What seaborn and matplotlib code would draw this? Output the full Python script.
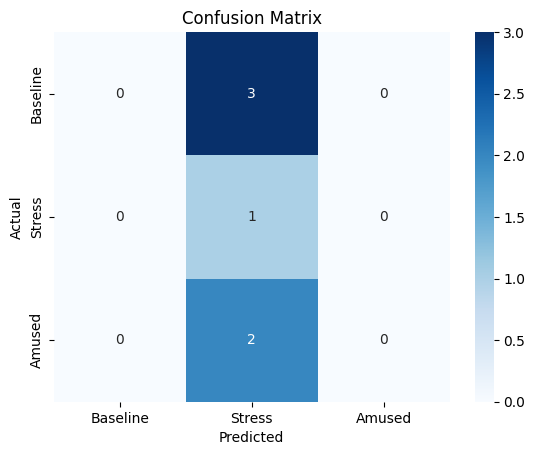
import matplotlib
matplotlib.use("Agg")
import matplotlib.pyplot as plt
import numpy as np
import seaborn as sns

labels = ["Baseline", "Stress", "Amused"]
row_baseline = [0, 3, 0]
row_stress = [0, 1, 0]
row_amused = [0, 2, 0]
matrix = np.array([row_baseline, row_stress, row_amused])

fig, ax = plt.subplots(figsize=(5.35, 4.55), dpi=100)
sns.heatmap(matrix, annot=True, fmt="d", cmap="Blues",
            xticklabels=labels, yticklabels=labels, ax=ax)
ax.set_title("Confusion Matrix")
ax.set_xlabel("Predicted")
ax.set_ylabel("Actual")
W, H = 535, 455
ax.set_position([53.6 / W, (H - 402) / H, 396.4 / W, 370 / H])
fig.axes[1].set_position([475 / W, (H - 402) / H, 18.5 / W, 370 / H])
fig.savefig("out.png", dpi=100)
